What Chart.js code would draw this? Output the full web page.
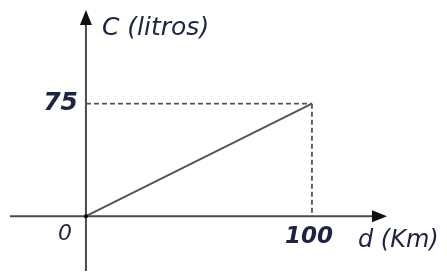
<!DOCTYPE html>
<html>
<head>
<meta charset="utf-8">
<script src="https://cdn.jsdelivr.net/npm/chart.js@4"></script>
<style>
  html, body { margin: 0; padding: 0; background: #fff; }
  #wrap { width: 447px; height: 275px; }
</style>
</head>
<body>
<div id="wrap"><canvas id="graf"></canvas></div>
<script>
// datos del gráfico
const distancias = [0, 100];
const litros = [0, 75];
const ticksX = [100];
const ticksY = [75];
const tituloX = 'd (Km)';
const tituloY = 'C (litros)';

const colorTexto = '#1c2440';
const colorEje = '#4a4a4a';

// ejes con flecha y textos
const ejesPlugin = {
  id: 'ejes',
  beforeDatasetsDraw(chart) {
    const ctx = chart.ctx;
    const xs = chart.scales.x, ys = chart.scales.y;
    const x0 = xs.getPixelForValue(0), y0 = ys.getPixelForValue(0);
    const area = chart.chartArea;
    ctx.save();
    ctx.strokeStyle = colorEje;
    ctx.fillStyle = '#111';
    ctx.lineWidth = 2;
    // eje x
    ctx.beginPath();
    ctx.moveTo(area.left, y0);
    ctx.lineTo(area.right - 12, y0);
    ctx.stroke();
    ctx.beginPath();
    ctx.moveTo(area.right, y0);
    ctx.lineTo(area.right - 15, y0 - 6);
    ctx.lineTo(area.right - 15, y0 + 6);
    ctx.closePath();
    ctx.fill();
    // eje y
    ctx.beginPath();
    ctx.moveTo(x0, area.bottom);
    ctx.lineTo(x0, area.top + 12);
    ctx.stroke();
    ctx.beginPath();
    ctx.moveTo(x0, area.top);
    ctx.lineTo(x0 - 6, area.top + 15);
    ctx.lineTo(x0 + 6, area.top + 15);
    ctx.closePath();
    ctx.fill();
    ctx.restore();
  },
  afterDraw(chart) {
    const ctx = chart.ctx;
    const xs = chart.scales.x, ys = chart.scales.y;
    const x0 = xs.getPixelForValue(0), y0 = ys.getPixelForValue(0);
    ctx.save();
    ctx.fillStyle = colorTexto;
    ctx.textBaseline = 'middle';
    // ticks
    ctx.font = 'italic bold 25px "DejaVu Sans"';
    ctx.textAlign = 'right';
    ticksY.forEach(v => ctx.fillText(String(v), x0 - 8, ys.getPixelForValue(v)));
    ctx.font = 'italic bold 23px "DejaVu Sans"';
    ctx.textAlign = 'center';
    ticksX.forEach(v => ctx.fillText(String(v), xs.getPixelForValue(v) - 3, y0 + 21));
    ctx.font = 'italic 22px "DejaVu Sans"';
    ctx.fillText('0', x0 - 21, y0 + 18);
    // títulos
    ctx.textAlign = 'left';
    ctx.font = 'oblique 25px "DejaVu Sans"';
    ctx.fillText(tituloY, x0 + 16, 28);
    ctx.font = 'oblique 24px "DejaVu Sans"';
    ctx.fillText(tituloX, xs.getPixelForValue(100) + 46, y0 + 25);
    ctx.restore();
  }
};

const ultimo = distancias.length - 1;

new Chart(document.getElementById('graf'), {
  type: 'scatter',
  data: {
    datasets: [
      {
        label: 'C',
        data: distancias.map((d, i) => ({ x: d, y: litros[i] })),
        showLine: true,
        borderColor: '#555',
        borderWidth: 2,
        pointRadius: [2, 0],
        pointBackgroundColor: '#000',
        pointBorderWidth: 0
      },
      {
        label: 'guia horizontal',
        data: [{ x: 0, y: litros[ultimo] }, { x: distancias[ultimo], y: litros[ultimo] }],
        showLine: true,
        borderColor: '#555',
        borderWidth: 1.8,
        borderDash: [5, 3],
        pointRadius: 0
      },
      {
        label: 'guia vertical',
        data: [{ x: distancias[ultimo], y: litros[ultimo] }, { x: distancias[ultimo], y: 0 }],
        showLine: true,
        borderColor: '#555',
        borderWidth: 1.8,
        borderDash: [5, 3],
        pointRadius: 0
      }
    ]
  },
  options: {
    responsive: true,
    maintainAspectRatio: false,
    animation: false,
    layout: {
      padding: { left: 10, right: 60, top: 10, bottom: 3 }
    },
    scales: {
      x: { type: 'linear', display: false, min: -33.6, max: 133.2 },
      y: { type: 'linear', display: false, min: -36.5, max: 137.4 }
    },
    plugins: {
      legend: { display: false },
      tooltip: { enabled: false }
    }
  },
  plugins: [ejesPlugin]
});
</script>
</body>
</html>
